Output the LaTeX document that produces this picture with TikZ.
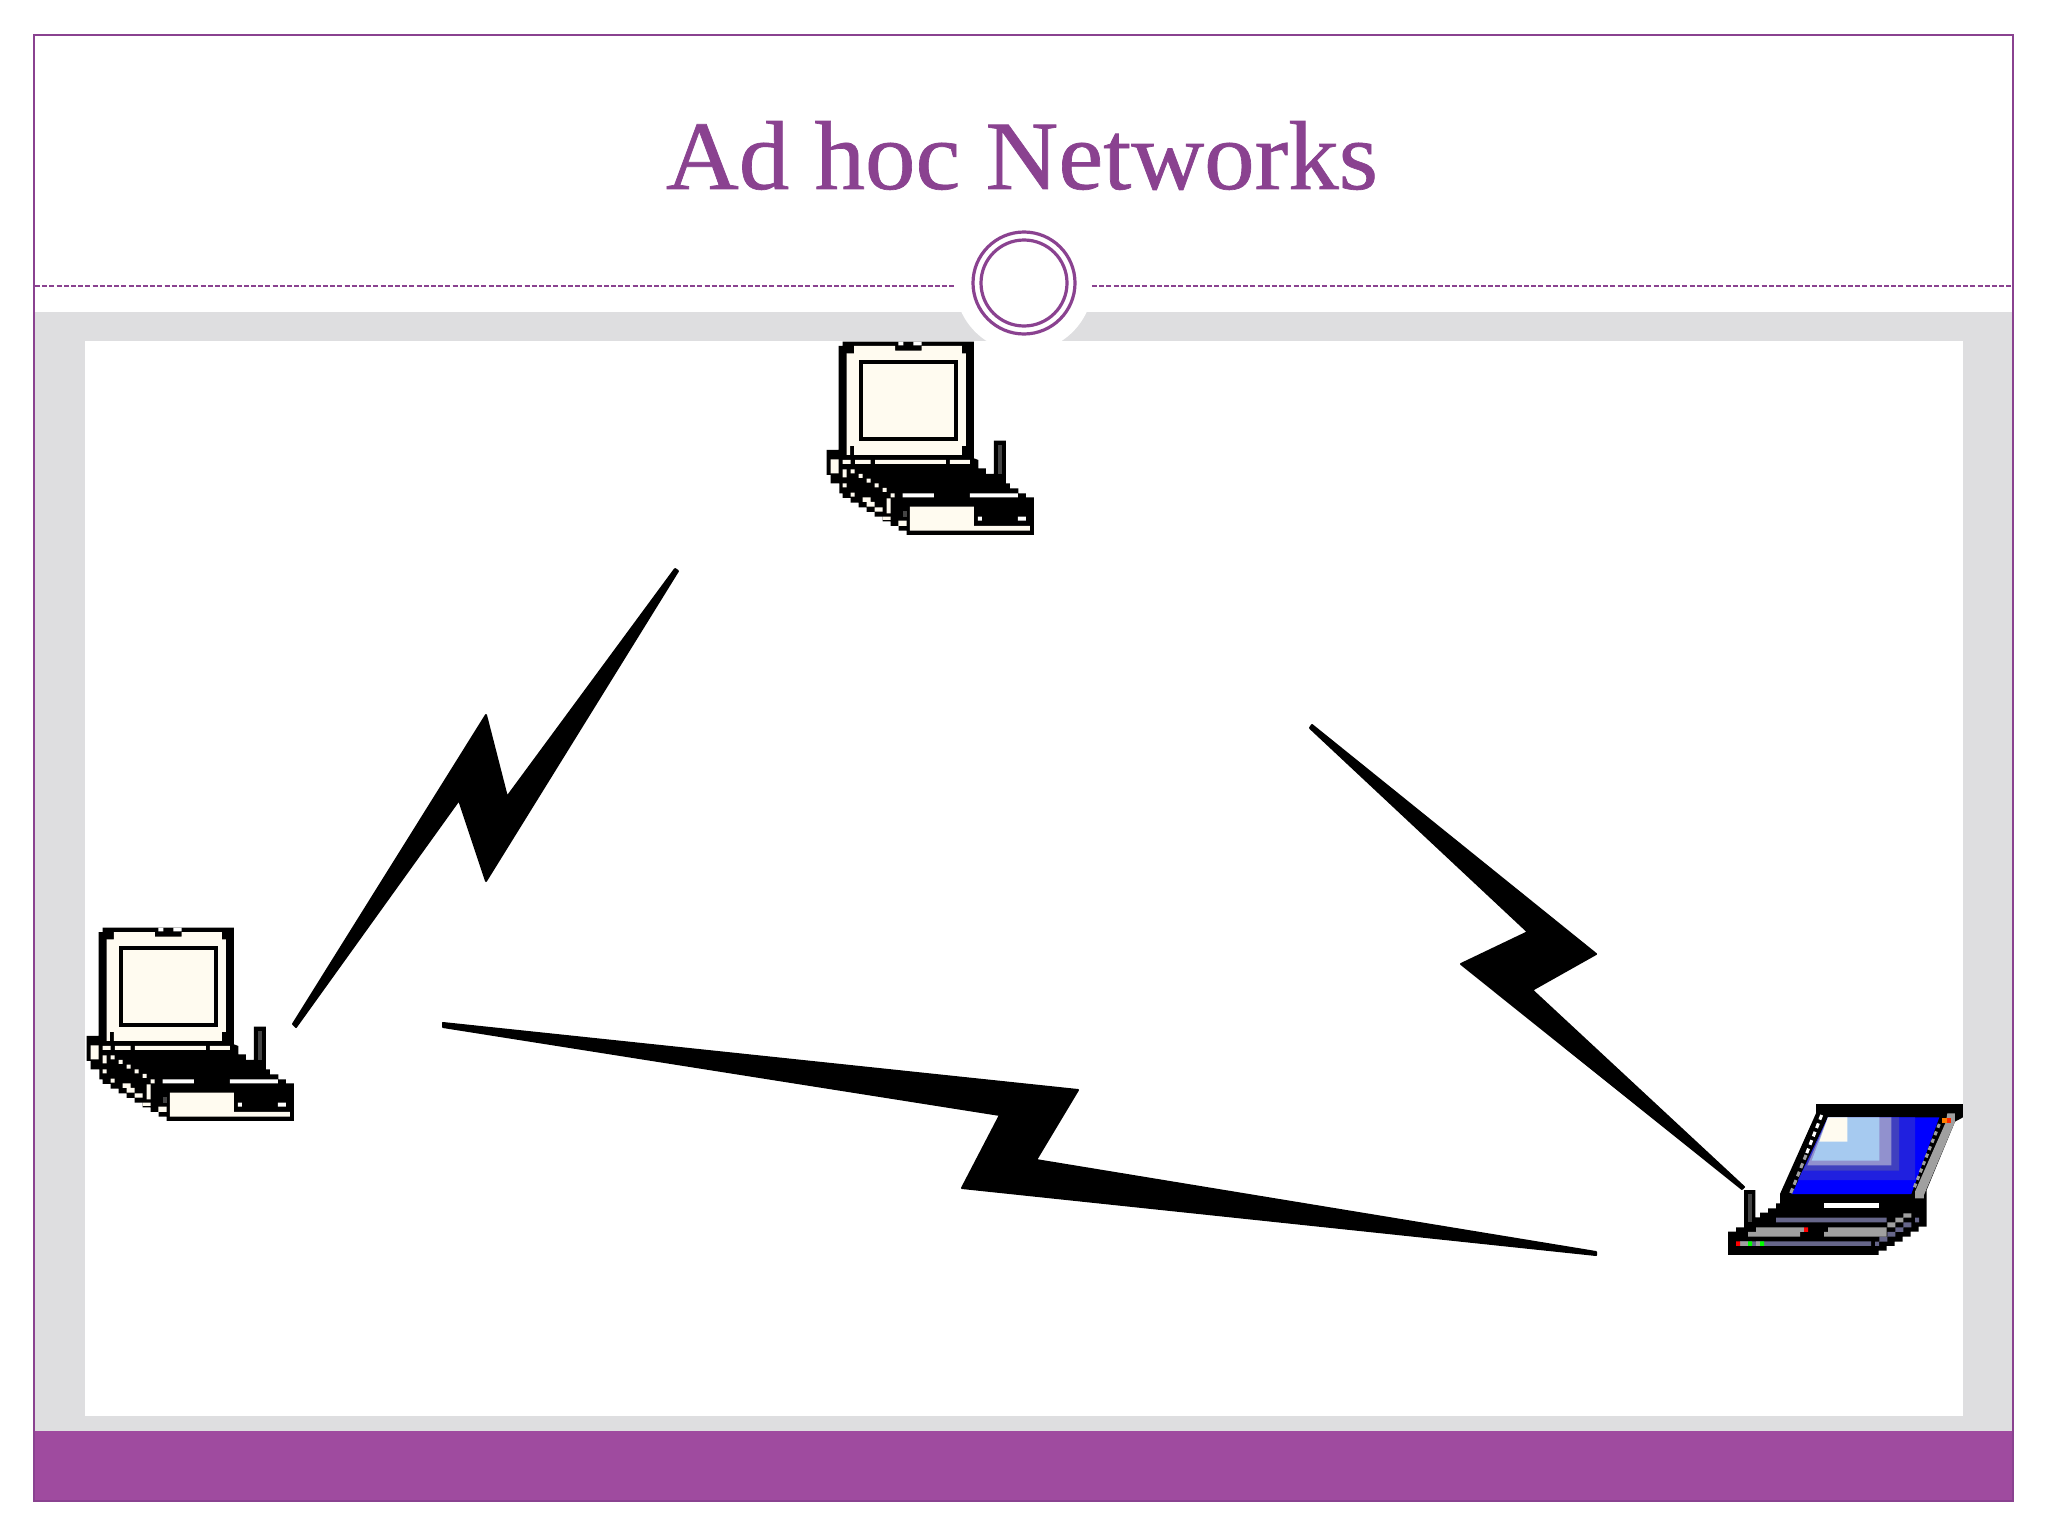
\documentclass[tikz,border=0pt]{standalone}
\usepackage{fontspec}
\setmainfont[FakeStretch=1.03,FakeBold=0.7]{Liberation Serif}
\definecolor{plum}{HTML}{8A4290}
\definecolor{barplum}{HTML}{9F4B9F}
\definecolor{panelgray}{HTML}{DEDEE0}
\definecolor{cream}{HTML}{FFFBF0}
\definecolor{keygray}{HTML}{A0A0A0}
\definecolor{keydark}{HTML}{66668A}
\definecolor{antgray}{HTML}{444444}
\definecolor{skyblue}{HTML}{A6CAF0}
\tikzset{
  ring/.style={circle,draw=plum,line width=3.2pt,inner sep=0pt,minimum size=#1},
  bolt/.style={fill=black,draw=black,line width=2pt,line join=round},
  dashrule/.style={draw=plum,line width=1.4pt,dash pattern=on 5pt off 2.2pt}
}
\newcommand{\oldpc}[2]{
\begin{scope}[shift={(#1,#2)},x=.3333pt,y=-.3333pt]
\fill (128,65) -- (522,65) -- (522,415) -- (535,420) -- (535,445) -- (558,445) -- (558,462) -- (582,462) -- (582,362) -- (618,362) -- (618,490) -- (630,490) -- (630,505) -- (655,505) -- (655,520) -- (678,520) -- (678,532) -- (702,532) -- (702,645) -- (320,645) -- (320,632) -- (296,632) -- (296,618) -- (272,618) -- (272,604) -- (248,604) -- (248,590) -- (224,590) -- (224,576) -- (200,576) -- (200,562) -- (176,562) -- (176,548) -- (152,548) -- (152,534) -- (128,534) -- (128,520) -- (118,520) -- (118,490) -- (92,490) -- (92,465) -- (80,465) -- (80,390) -- (116,390) -- (116,78) -- (128,78) -- cycle;
\fill[cream] (162,78) -- (285,78) -- (285,92) -- (365,92) -- (365,78) -- (486,78) -- (486,100) -- (498,100) -- (498,378) -- (486,378) -- (486,405) -- (162,405) -- (162,378) -- (150,378) -- (150,405) -- (140,405) -- (140,100) -- (162,100) -- cycle;
\fill (176,120) rectangle (474,362);
\fill[cream] (188,132) rectangle (462,350);
\fill[white] (295,65) rectangle (310,76) (340,65) rectangle (365,76);
\fill[antgray] (595,375) rectangle (606,462);
\fill[cream] (128,420) rectangle (152,432) (165,420) rectangle (212,432) (225,420) rectangle (438,432) (450,420) rectangle (510,432) (92,418) rectangle (116,460) (128,448) rectangle (140,472) (152,448) rectangle (164,460) (176,462) rectangle (188,474) (200,476) rectangle (212,488) (224,490) rectangle (236,502) (248,504) rectangle (260,516) (272,520) rectangle (284,532) (128,490) rectangle (140,502) (152,518) rectangle (164,530) (188,532) rectangle (212,546) (200,546) rectangle (224,560) (224,562) rectangle (248,575) (248,590) rectangle (272,600) (260,535) rectangle (272,580) (295,602) rectangle (320,618);
\fill[white] (308,520) rectangle (402,532) (510,520) rectangle (654,532);
\fill[cream] (330,560) rectangle (522,618) (330,618) rectangle (690,632);
\fill[white] (534,590) rectangle (546,602) (654,590) rectangle (678,602);
\fill[antgray] (308,574) rectangle (320,590);
\end{scope}}
\newcommand{\bluepc}[2]{
\begin{scope}[shift={(#1,#2)},x=.3333pt,y=-.3333pt]
\fill (84,455) -- (108,455) -- (108,442) -- (132,442) -- (132,330) -- (166,330) -- (166,412) -- (180,412) -- (180,398) -- (204,398) -- (204,385) -- (228,385) -- (228,370) -- (240,370) -- (240,342) -- (348,100) -- (348,72) -- (789,72) -- (789,112) -- (765,125) -- (680,330) -- (680,440) -- (656,440) -- (656,455) -- (632,455) -- (632,470) -- (608,470) -- (608,485) -- (584,485) -- (584,498) -- (560,498) -- (560,512) -- (536,512) -- (536,525) -- (84,525) -- cycle;
\fill[blue] (384,112) -- (718,112) -- (634,342) -- (276,342) -- cycle;
\fill[blue!75!gray] (384,112) -- (645,112) -- (645,300) -- (294,300) -- cycle;
\fill[blue!50!gray] (384,112) -- (597,112) -- (597,272) -- (310,272) -- cycle;
\fill[keydark!70!blue!60!white] (384,112) -- (574,112) -- (574,256) -- (322,256) -- cycle;
\fill[skyblue] (384,112) -- (538,112) -- (538,242) -- (335,242) -- cycle;
\fill[cream] (384,112) -- (442,112) -- (442,185) -- (358,185) -- cycle;
\draw[white,line width=3pt,dash pattern=on 5pt off 4pt] (365,105) -- (318,225);
\draw[keygray,line width=3pt,dash pattern=on 5pt off 4pt] (318,225) -- (268,350);
\draw[keygray,line width=3pt,dash pattern=on 4pt off 4pt] (718,132) -- (642,325);
\fill[keygray] (742,100) -- (765,100) -- (765,125) -- (672,345) -- (672,355) -- (645,355) -- (645,335) -- (738,125) -- cycle;
\fill[orange] (726,115) rectangle (752,128);
\fill[red!70!orange] (740,115) rectangle (752,128);
\fill[white] (372,370) rectangle (538,385);
\fill[antgray] (143,342) rectangle (155,425);
\fill[keydark] (228,413) rectangle (560,427) (120,484) rectangle (513,498) (610,427) rectangle (634,442) (586,442) rectangle (610,456) (562,456) rectangle (586,470) (538,470) rectangle (562,485) (645,413) rectangle (657,427) (525,485) rectangle (537,498);
\fill[keygray] (168,442) rectangle (312,456) (144,456) rectangle (300,470) (384,442) rectangle (560,456) (372,456) rectangle (560,470) (610,400) rectangle (634,413) (586,413) rectangle (610,427) (562,427) rectangle (586,442) (120,484) rectangle (144,498) (168,484) rectangle (180,498);
\fill[red] (312,442) rectangle (324,456) (108,484) rectangle (120,498);
\fill[green] (144,484) rectangle (156,498) (180,484) rectangle (192,498);
\end{scope}}
\begin{document}
\begin{tikzpicture}[x=1pt,y=-1pt]
\useasboundingbox (0,0) rectangle (2048,1536);
\fill[white] (0,0) rectangle (2048,1536);
\fill[panelgray] (34,312) rectangle (2013,1431);
\fill[white] (85,341) rectangle (1963,1416);
\fill[barplum] (34,1431) rectangle (2013,1501);
\draw[plum,line width=1.8pt] (34,35) rectangle (2013,1501);
\fill[white] (1024,283) circle (69);
\draw[dashrule] (35,286) -- (956,286);
\draw[dashrule] (1092,286) -- (2012,286);
\node[ring=102pt] (outerring) at (1024,283) {};
\node[ring=86pt] (innerring) at (1024,283) {};
\node[text=plum,font=\fontsize{98}{110}\selectfont,anchor=base,inner sep=0pt] (title) at (1022,189) {Ad hoc Networks};
\oldpc{800}{320}
\oldpc{60}{906}
\bluepc{1700}{1080}
\fill[bolt] (678,571) -- (675,569) -- (507,797) -- (486,715) -- (293,1024) -- (296,1027) -- (459,800) -- (486,881) -- cycle;
\fill[bolt] (1312,725) -- (1596,954) -- (1532,990) -- (1744,1187) -- (1742,1189) -- (1461,964) -- (1528,932) -- (1310,728) -- cycle;
\fill[bolt] (443,1023) -- (1078,1090) -- (1036,1160) -- (1596,1252) -- (1596,1255) -- (962,1188) -- (1000,1115) -- (443,1027) -- cycle;
\end{tikzpicture}
\end{document}
